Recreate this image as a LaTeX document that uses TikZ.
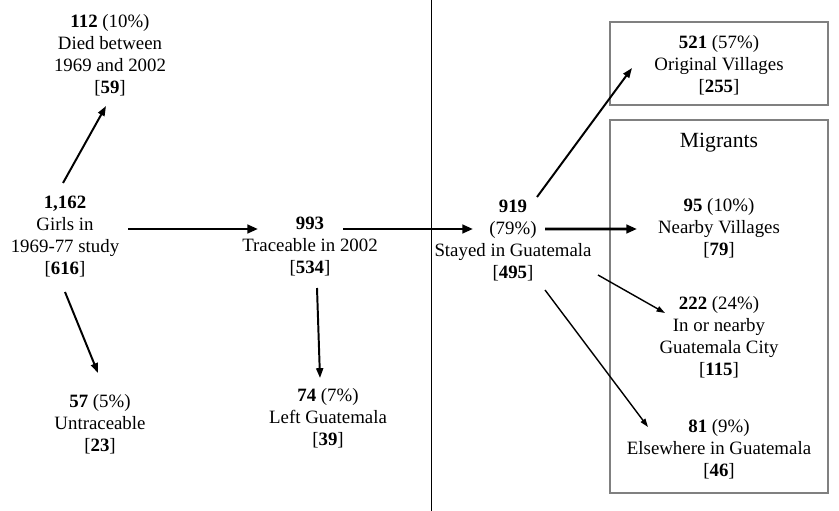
\documentclass[tikz,border=0pt]{standalone}
\usepackage{fontspec}
\setmainfont{Liberation Serif}
\usetikzlibrary{arrows.meta,calc}

\begin{document}
\begin{tikzpicture}[x=0.025cm, y=-0.025cm,
	every node/.style={align=center, inner sep=0pt, font=\fontsize{13.4}{15.65}\selectfont},
	flow/.style={-{Triangle[length=7.5pt,width=6pt]}, line width=2.1pt},
	branch/.style={-{Triangle[length=7pt,width=5pt]}, line width=1.4pt},
	side/.style={-{Triangle[length=6pt,width=4pt]}, line width=1pt},
	group/.style={draw=gray, line width=0.8pt}]

\useasboundingbox (0,0) rectangle (839,511);

\draw (431,0) -- (431,511);

\draw [group] (610,22) rectangle (828,105);
\draw [group] (610,120) rectangle (828,493);

\node (died) at (110,55) {\textbf{112} (10\%)\\Died between\\1969 and 2002\\{}[\textbf{59}]};
\node (girls) at (65,237) {\textbf{1,162}\\Girls in\\1969-77 study\\{}[\textbf{616}]};
\node (untraced) at (100,424.5) {\textbf{57} (5\%)\\Untraceable\\{}[\textbf{23}]};
\node (traced) at (310,247) {\textbf{993}\\Traceable in 2002\\{}[\textbf{534}]};
\node (left) at (328,418.5) {\textbf{74} (7\%)\\Left Guatemala\\{}[\textbf{39}]};
\node (stayed) at (513,240.5) {\textbf{919}\\(79\%)\\Stayed in Guatemala\\{}[\textbf{495}]};

\node (origin) at (719,65.5) {\textbf{521} (57\%)\\Original Villages\\{}[\textbf{255}]};
\node (migrants) at (719,143) {\fontsize{15.4}{18}\selectfont Migrants};
\node (nearby) at (719,228.5) {\textbf{95} (10\%)\\Nearby Villages\\{}[\textbf{79}]};
\node (city) at (719,337.5) {\textbf{222} (24\%)\\In or nearby\\Guatemala City\\{}[\textbf{115}]};
\node (elsewhere) at (719,449.5) {\textbf{81} (9\%)\\Elsewhere in Guatemala\\{}[\textbf{46}]};

% left half
\draw [branch] ($(girls)+(-2,-54)$) -- ($(died)+(-4,51)$);
\draw [branch] ($(girls)+(0,55)$) -- ($(untraced)+(-2,-51.5)$);
\draw [flow] ($(girls)+(63,-8)$) -- ($(traced)+(-52,-18)$);
\draw [branch] ($(traced)+(7,41)$) -- ($(left)+(-8,-40.5)$);
\draw [flow] ($(traced)+(33,-18)$) -- ($(stayed)+(-40,-11.5)$);

% right half
\draw [branch] ($(stayed)+(24,-43.5)$) -- ($(origin)+(-87,2.5)$);
\draw [flow] ($(stayed)+(32,-11.5)$) -- ($(nearby)+(-82,0.5)$);
\draw [side] ($(stayed)+(85,34.5)$) -- ($(city)+(-54,-24.5)$);
\draw [side] ($(stayed)+(32,49.5)$) -- ($(elsewhere)+(-71,-22.5)$);

\end{tikzpicture}
\end{document}
